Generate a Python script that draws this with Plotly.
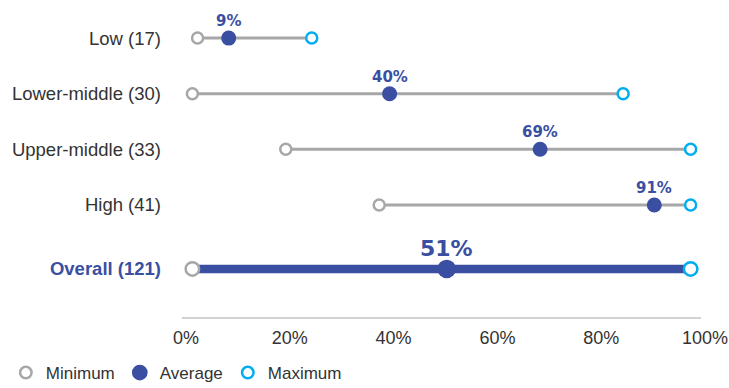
import plotly.graph_objects as go

categories = ["Low (17)", "Lower-middle (30)", "Upper-middle (33)", "High (41)", "Overall (121)"]
minimum = [3, 2, 20, 38, 2]
average = [9, 40, 69, 91, 51]
maximum = [25, 85, 98, 98, 98]
x_ticks = [0, 20, 40, 60, 80, 100]
x_tick_labels = ["0%", "20%", "40%", "60%", "80%", "100%"]

BLUE = "#3A4FA2"
GRAY = "#A7A7A9"
CYAN = "#00AEEF"
TEXT = "#333333"
FONT = "Liberation Sans, Arial, sans-serif"
BOLDFONT = "DejaVu Sans, sans-serif"

n = len(categories)
# row positions (top to bottom); overall row sits a bit further down
ypos = [n - 1 - i for i in range(n - 1)] + [-0.15]

fig = go.Figure()

# connecting lines for groups
lx, ly = [], []
for i in range(n - 1):
    lx += [minimum[i], maximum[i], None]
    ly += [ypos[i], ypos[i], None]
fig.add_trace(go.Scatter(x=lx, y=ly, mode="lines", line=dict(color=GRAY, width=3),
                         showlegend=False, hoverinfo="skip"))
# overall line
fig.add_trace(go.Scatter(x=[minimum[-1], maximum[-1]], y=[ypos[-1]] * 2, mode="lines",
                         line=dict(color=BLUE, width=8.5), showlegend=False, hoverinfo="skip"))

sizes_min = [11] * (n - 1) + [13.5]
sizes_avg = [15] * (n - 1) + [18.5]

fig.add_trace(go.Scatter(x=minimum, y=ypos, mode="markers", name="Minimum",
                         marker=dict(symbol="circle", size=sizes_min, color="white", opacity=1,
                                     line=dict(width=2.5, color=GRAY))))
fig.add_trace(go.Scatter(x=average, y=ypos, mode="markers", name="Average",
                         marker=dict(symbol="circle", size=sizes_avg, color=BLUE, opacity=1,
                                     line=dict(width=0))))
fig.add_trace(go.Scatter(x=maximum, y=ypos, mode="markers", name="Maximum",
                         marker=dict(symbol="circle", size=sizes_min, color="white", opacity=1,
                                     line=dict(width=2.5, color=CYAN))))

# value labels
for i in range(n):
    big = i == n - 1
    fig.add_annotation(x=average[i], y=ypos[i], text=f"<b>{average[i]}%</b>", showarrow=False,
                       yshift=20 if big else 17,
                       font=dict(family=BOLDFONT, size=22 if big else 15, color=BLUE))

ticktext = categories[:-1] + [f"<b><span style='color:{BLUE}'>{categories[-1]}</span></b>"]

fig.update_layout(
    width=729, height=388,
    margin=dict(l=182, r=28, t=0, b=71),
    paper_bgcolor="white", plot_bgcolor="white",
    font=dict(family=FONT, size=17, color=TEXT),
    xaxis=dict(range=[0, 100], tickvals=x_ticks, ticktext=x_tick_labels, showgrid=False,
               zeroline=False, showline=True, linecolor="#D2D2D2", linewidth=1.5,
               ticks="", ticklabelstandoff=4, ticklabelshift=4,
               tickfont=dict(family=FONT, size=18, color=TEXT)),
    yaxis=dict(range=[-1.015, 4.685], tickvals=ypos, ticktext=ticktext, showgrid=False,
               zeroline=False, showline=False, ticks="", ticklabelstandoff=20,
               tickfont=dict(family=FONT, size=18.5, color=TEXT)),
    legend=dict(orientation="h", xref="container", yref="container", x=0.008, y=0.085,
                xanchor="left", yanchor="top", font=dict(family=FONT, size=17, color=TEXT),
                itemwidth=30, tracegroupgap=0),
    showlegend=True,
)

fig.write_html("out.html")
